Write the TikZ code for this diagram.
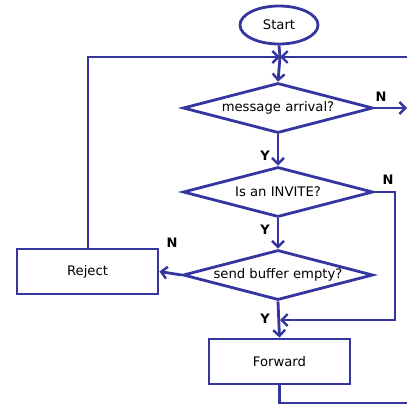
\documentclass[tikz,border=0pt]{standalone}
\usepackage{fontspec}
\setmainfont{DejaVu Sans}
\usetikzlibrary{shapes.geometric,arrows.meta}
\definecolor{flowline}{HTML}{3535A0}
\tikzset{
  flow/.style={draw=flowline, line width=2.8pt},
  arr/.style={flow, -{Straight Barb[length=6pt,width=12pt,line width=2.4pt]}},
  boxtext/.style={font=\fontsize{13.2}{15}\selectfont},
  decision/.style={flow, boxtext, diamond, aspect=3.8, minimum width=190pt, minimum height=50pt, inner sep=0pt},
  process/.style={flow, boxtext, rectangle, minimum width=141pt, minimum height=45pt, inner sep=0pt},
  terminal/.style={flow, boxtext, ellipse, minimum width=78pt, minimum height=38pt, inner sep=0pt},
  lbl/.style={font=\bfseries\fontsize{13}{15}\selectfont, text=black}
}
\begin{document}
\begin{tikzpicture}[x=1pt,y=-1pt]
\useasboundingbox (0,0) rectangle (407,407);
% nodes
\node[terminal] (start) at (279,25) {Start};
\coordinate (join) at (280,57);
\node[decision] (msg) at (278,108) {message arrival?};
\node[decision] (inv) at (278,192) {Is an INVITE?};
\node[decision] (buf) at (278,275) {send buffer empty?};
\node[process] (rej) at (87.5,271.5) {Reject};
\node[process] (fwd) at (279.5,361.5) {Forward};
\coordinate (inR) at (407,57);
\coordinate (outR) at (407,108);
\coordinate (merge) at (280,320);
\coordinate (invR) at (395,192);
\coordinate (fwdOut) at (407,403);
% connectors
\draw[flow] (start.south) -- (join);
\draw[arr] (rej.north -| 88,0) |- (join);
\draw[arr] (inR) -- (join);
\draw[arr] (join) -- (msg.north);
\draw[arr] (msg.east) -- (outR);
\draw[arr] (msg.south) -- (inv.north);
\draw[arr] (inv.south) -- (buf.north);
\draw[arr] (buf.west) -- (rej.east);
\draw[arr] (inv.east) -- (invR) |- (merge);
\draw[arr] (buf.south) -- (fwd.north);
\draw[flow] (fwd.south) |- (fwdOut);
% labels
\node[lbl] (nMsg) at (381,97) {N};
\node[lbl] (yMsg) at (265,156) {Y};
\node[lbl] (nInv) at (388,180) {N};
\node[lbl] (yInv) at (265,230) {Y};
\node[lbl] (nBuf) at (172,243) {N};
\node[lbl] (yBuf) at (265,319) {Y};
\end{tikzpicture}
\end{document}
